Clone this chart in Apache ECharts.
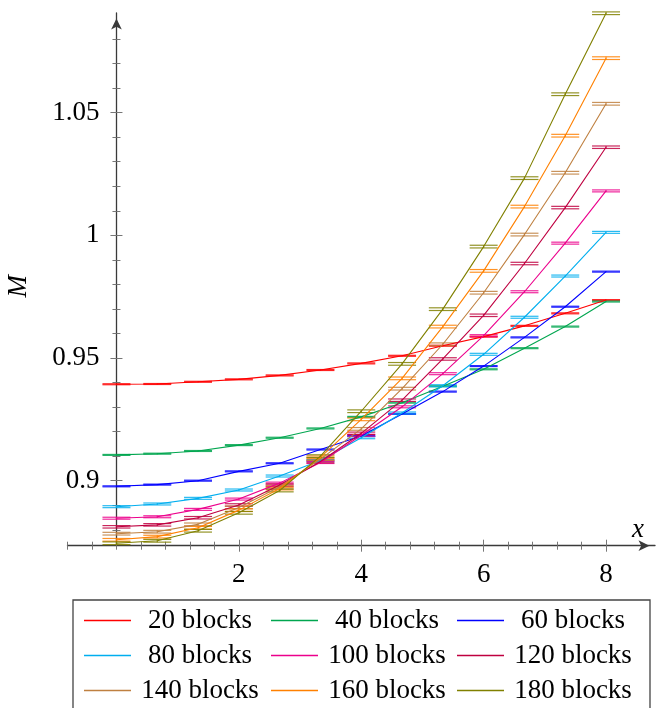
<!DOCTYPE html>
<html>
<head>
<meta charset="utf-8">
<script src="https://cdn.jsdelivr.net/npm/echarts@6.0.0/dist/echarts.min.js"></script>
<style>
html,body{margin:0;padding:0;background:#fff;}
#chart{width:668px;height:708px;}
</style>
</head>
<body>
<div id="chart"></div>
<script>
// ---- data ----
const xs = [0, 0.667, 1.333, 2, 2.667, 3.333, 4, 4.667, 5.333, 6, 6.667, 7.333, 8];

const b20  = [0.9393, 0.9394, 0.9403, 0.9413, 0.9429, 0.9451, 0.9478, 0.9509, 0.9550, 0.9587, 0.9631, 0.9682, 0.9736];
const b40  = [0.9105, 0.9110, 0.9121, 0.9145, 0.9175, 0.9213, 0.9260, 0.9318, 0.9385, 0.9454, 0.9540, 0.9628, 0.9730];
const b60  = [0.8977, 0.8984, 0.9000, 0.9038, 0.9071, 0.9127, 0.9182, 0.9272, 0.9363, 0.9467, 0.9584, 0.9709, 0.9852];
const b80  = [0.8894, 0.8905, 0.8928, 0.8962, 0.9019, 0.9082, 0.9175, 0.9276, 0.9387, 0.9515, 0.9666, 0.9834, 1.0012];
const b100 = [0.8847, 0.8853, 0.8883, 0.8925, 0.8990, 0.9074, 0.9185, 0.9301, 0.9436, 0.9591, 0.9770, 0.9968, 1.0181];
const b120 = [0.8812, 0.8820, 0.8849, 0.8901, 0.8982, 0.9078, 0.9193, 0.9328, 0.9496, 0.9674, 0.9885, 1.0113, 1.0359];
const b140 = [0.8784, 0.8792, 0.8822, 0.8891, 0.8975, 0.9088, 0.9211, 0.9375, 0.9556, 0.9766, 1.0003, 1.0255, 1.0536];
const b160 = [0.8759, 0.8772, 0.8808, 0.8880, 0.8968, 0.9095, 0.9250, 0.9417, 0.9628, 0.9855, 1.0117, 1.0406, 1.0722];
const b180 = [0.8745, 0.8755, 0.8796, 0.8869, 0.8960, 0.9100, 0.9283, 0.9476, 0.9699, 0.9954, 1.0233, 1.0575, 1.0905];

// half-height of the error bars of each series
const errs = [0.0002, 0.0002, 0.0002, 0.0004, 0.0004, 0.0005, 0.00055, 0.00055, 0.00055];

const names = ['20 blocks', '40 blocks', '60 blocks', '80 blocks', '100 blocks',
               '120 blocks', '140 blocks', '160 blocks', '180 blocks'];
const seriesValues = [b20, b40, b60, b80, b100, b120, b140, b160, b180];

const xMajorTicks = [2, 4, 6, 8];
const xMinorTicks = [-0.8, -0.4, 0, 0.4, 0.8, 1.2, 1.6, 2, 2.4, 2.8, 3.2, 3.6, 4, 4.4, 4.8,
                     5.2, 5.6, 6, 6.4, 6.8, 7.2, 7.6, 8];
const yMajorTicks = [0.9, 0.95, 1, 1.05];
const yMinorTicks = [0.88, 0.89, 0.9, 0.91, 0.92, 0.93, 0.94, 0.95, 0.96, 0.97, 0.98, 0.99,
                     1, 1.01, 1.02, 1.03, 1.04, 1.05, 1.06, 1.07, 1.08];
const X_MIN = -0.8, X_MAX = 8.8, Y_MIN = 0.8735, Y_MAX = 1.0906;

// ---- styling ----
const colors = ['#FF0000', '#00A64F', '#0000FF', '#00AEEF', '#EC008C',
                '#BF0040', '#BF8040', '#FF8000', '#808000'];
const FONT = '"Liberation Serif", "DejaVu Serif", serif';
const FS = 27;
const AXIS_COLOR = '#3a3a3a';
const TICK_COLOR = '#777';

function baseAxis(type, extra) {
  const isX = type === 'x';
  return Object.assign({
    type: 'value',
    min: isX ? X_MIN : Y_MIN,
    max: isX ? X_MAX : Y_MAX,
    position: isX ? 'bottom' : 'left',
    offset: 0,
    splitLine: { show: false },
    axisLine: { show: false, onZero: false },
    axisLabel: { show: false },
    axisTick: { show: false }
  }, extra);
}
function tickAxis(type, values, len, inside) {
  return baseAxis(type, {
    axisTick: { show: true, customValues: values, length: len, inside: inside,
                lineStyle: { color: TICK_COLOR, width: 1 } }
  });
}

const xAxes = [
  baseAxis('x', {
    name: 'x',
    nameLocation: 'end',
    nameGap: -11,
    nameTextStyle: { fontFamily: FONT, fontStyle: 'italic', fontSize: FS, color: '#000',
                     align: 'right', verticalAlign: 'bottom', padding: [0, 0, 2, 0] },
    axisLine: { show: true, onZero: false, symbol: ['none', 'arrow'], symbolSize: [8, 11],
                symbolOffset: [0, -5.5], lineStyle: { color: AXIS_COLOR, width: 1.3 } },
    axisTick: { show: true, customValues: xMajorTicks, length: 6, inside: false,
                lineStyle: { color: TICK_COLOR, width: 1 } },
    axisLabel: { show: true, customValues: xMajorTicks, margin: 16, fontFamily: FONT,
                 fontSize: FS, color: '#000', formatter: v => String(+(+v).toFixed(4)) }
  }),
  tickAxis('x', xMajorTicks, 6, true),
  tickAxis('x', xMinorTicks, 4, false),
  tickAxis('x', xMinorTicks, 4, true)
];

const yAxes = [
  baseAxis('y', {
    name: 'M',
    nameLocation: 'middle',
    nameGap: 84,
    nameTextStyle: { fontFamily: FONT, fontStyle: 'italic', fontSize: FS, color: '#000',
                     padding: [0, 14, 0, 0] },
    axisLine: { show: true, onZero: false, symbol: ['none', 'arrow'],
                symbolSize: [8, 11], symbolOffset: [0, -5.5],
                lineStyle: { color: AXIS_COLOR, width: 1.3 } },
    axisTick: { show: true, customValues: yMajorTicks, length: 6, inside: false,
                lineStyle: { color: TICK_COLOR, width: 1 } },
    axisLabel: { show: true, customValues: yMajorTicks, margin: 17, fontFamily: FONT,
                 fontSize: FS, color: '#000', formatter: v => String(+(+v).toFixed(4)) }
  }),
  tickAxis('y', yMajorTicks, 6, true),
  tickAxis('y', yMinorTicks, 4, false),
  tickAxis('y', yMinorTicks, 4, true)
];

function errorBarRender(color) {
  return function (params, api) {
    const x = api.value(0), y = api.value(1), e = api.value(2);
    const pTop = api.coord([x, y + e]);
    const pBot = api.coord([x, y - e]);
    const hw = 14;
    const st = { stroke: color, lineWidth: 1.2, opacity: 0.85 };
    return {
      type: 'group',
      children: [
        { type: 'line', shape: { x1: pTop[0] - hw, y1: pTop[1], x2: pTop[0] + hw, y2: pTop[1] }, style: st },
        { type: 'line', shape: { x1: pBot[0] - hw, y1: pBot[1], x2: pBot[0] + hw, y2: pBot[1] }, style: st },
        { type: 'line', shape: { x1: pTop[0], y1: pTop[1], x2: pBot[0], y2: pBot[1] }, style: st }
      ]
    };
  };
}

const series = [];
seriesValues.forEach(function (vals, i) {
  series.push({
    name: names[i],
    type: 'line',
    xAxisIndex: 0, yAxisIndex: 0,
    data: xs.map((x, j) => [x, vals[j]]),
    symbol: 'none',
    color: colors[i],
    itemStyle: { color: colors[i] },
    lineStyle: { color: colors[i], width: 1.1 },
    clip: false,
    animation: false
  });
  series.push({
    type: 'custom',
    xAxisIndex: 0, yAxisIndex: 0,
    data: xs.map((x, j) => [x, vals[j], errs[i]]),
    encode: { x: 0, y: 1 },
    renderItem: errorBarRender(colors[i]),
    clip: false,
    silent: true,
    animation: false
  });
});

function legendCol(left, items) {
  return {
    orient: 'vertical',
    left: left,
    top: 607,
    padding: 0,
    itemGap: 8,
    itemWidth: 47,
    itemHeight: 1.5,
    icon: 'rect',
    selectedMode: false,
    data: items,
    formatter: '{a|{name}}',
    textStyle: {
      rich: { a: { width: 128, align: 'center', fontFamily: FONT, fontSize: FS,
                   lineHeight: 26, color: '#000' } }
    }
  };
}

const option = {
  animation: false,
  backgroundColor: '#fff',
  grid: { left: 67.5, right: 13, top: 13, bottom: 162.3, containLabel: false, outerBoundsMode: 'none' },
  xAxis: xAxes,
  yAxis: yAxes,
  legend: [
    legendCol(84, [names[0], names[3], names[6]]),
    legendCol(271, [names[1], names[4], names[7]]),
    legendCol(457, [names[2], names[5], names[8]])
  ],
  graphic: [{
    type: 'rect', z: -1,
    shape: { x: 73, y: 600, width: 577, height: 120 },
    style: { fill: 'none', stroke: '#444', lineWidth: 1.3 }
  }],
  series: series
};

const chart = echarts.init(document.getElementById('chart'), null, { renderer: 'canvas' });
chart.setOption(option);
// put the vertical axis at x = 0, using the x axis scale
const px0 = chart.convertToPixel({ xAxisIndex: 0 }, 0);
const pxMin = chart.convertToPixel({ xAxisIndex: 0 }, X_MIN);
const shift = px0 - pxMin;
chart.setOption({ yAxis: yAxes.map(() => ({ offset: -shift })) });
</script>
</body>
</html>
